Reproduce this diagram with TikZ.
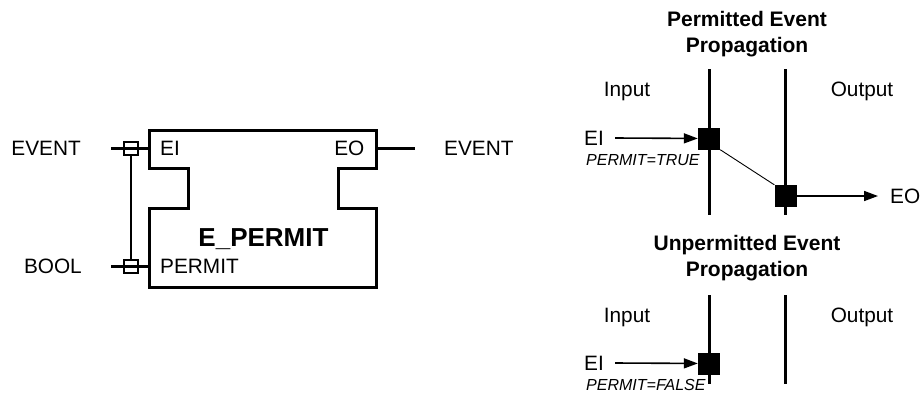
\documentclass[tikz,border=0pt]{standalone}
\usepackage{fontspec}
\setmainfont{Liberation Sans}
\usepackage{tikz}
\usetikzlibrary{arrows.meta}
\usetikzlibrary{calc}
\usetikzlibrary{positioning}
\tikzset{x=1pt, y=-1pt, node distance=12pt, every text node part/.style={align=center}}
\tikzstyle{lbl} = [inner sep=0pt, text height=14.9pt, text depth=0pt, font={\fontsize{20.8}{24}\selectfont}]
\tikzstyle{cond} = [inner sep=0pt, text height=11.5pt, text depth=0pt, font={\fontsize{16}{18}\selectfont\itshape}]
\tikzstyle{fbname} = [inner sep=0pt, text height=18.6pt, text depth=0pt, font={\fontsize{26}{30}\selectfont\bfseries}]
\tikzstyle{heading} = [inner sep=0pt, anchor=north, font={\fontsize{21}{26}\selectfont\bfseries}]
\tikzstyle{fb} = [draw, line width=3pt, line join=miter]
\tikzstyle{pin} = [draw, line width=2.3pt]
\tikzstyle{adapter} = [draw, line width=2.3pt, minimum size=13.5pt, inner sep=0pt]
\tikzstyle{dot} = [fill=black, minimum size=22pt, inner sep=0pt]
\tikzstyle{bar} = [draw, line width=3pt]
\tikzstyle{ln} = [draw, line width=1.6pt, arrows={-Triangle[length=14pt, width=10pt]}]

\begin{document}
\begin{tikzpicture}
  \useasboundingbox (0,0) rectangle (920,394);

  % E_PERMIT function block
  \draw[fb] (149,130) -- (376,130) -- (376,168) -- (338.5,168) -- (338.5,208)
    -- (376,208) -- (376,287) -- (149,287) -- (149,208) -- (188,208)
    -- (188,168) -- (149,168) -- cycle;
  \node[lbl, anchor=west] (ei) at (160,148.5) {EI};
  \node[lbl, anchor=east] (eo) at (364.5,148.5) {EO};
  \node[lbl, anchor=west] (permit) at (160,266.5) {PERMIT};
  \node[fbname] (name) at (263.5,237) {E\_PERMIT};

  % interface pins
  \coordinate (eipin) at (149,148.5);
  \coordinate (permitpin) at (149,266.5);
  \coordinate (eopin) at (376,148.5);
  \node[lbl, anchor=east] (evtin) at (81,148.5) {EVENT};
  \node[lbl, anchor=east] (bool) at (82,266.5) {BOOL};
  \node[lbl, anchor=west] (evtout) at (444,148.5) {EVENT};
  \coordinate (evtend) at (111,148.5);
  \coordinate (boolend) at (111,266.5);
  \coordinate (eoend) at (415,148.5);
  \draw[pin] (evtend) -- (eipin);
  \draw[pin] (boolend) -- (permitpin);
  \draw[pin] (eopin) -- (eoend);

  % WITH association
  \node[adapter] (withei) at (131,148.5) {};
  \node[adapter] (withpermit) at (131,266.5) {};
  \draw[pin] (withei) -- (withpermit);

  % permitted case
  \node[heading] (titleA) at (747,11.5) {Permitted Event\\Propagation};
  \node[lbl] (inA) at (627,89) {Input};
  \node[lbl] (outA) at (862,89) {Output};
  \draw[bar] (709,69) -- (709,215);
  \draw[bar] (785.5,69) -- (785.5,215);
  \node[dot] (ta) at (709,138.5) {};
  \node[dot] (tb) at (785.5,196) {};
  \node[lbl, anchor=west] (eiA) at (584,138) {EI};
  \node[cond, anchor=west] (condA) at (586,160) {PERMIT=TRUE};
  \node[lbl, anchor=west] (eoA) at (890,196) {EO};
  \draw[ln] ([xshift=11pt]eiA.east) -- (ta);
  \draw[line width=0.9pt] (ta.south east) -- (tb.north west);
  \draw[ln] (tb) -- ([xshift=-12pt]eoA.west);

  % unpermitted case
  \node[heading] (titleB) at (747,235.5) {Unpermitted Event\\Propagation};
  \node[lbl] (inB) at (627,315) {Input};
  \node[lbl] (outB) at (862,315) {Output};
  \draw[bar] (709,295) -- (709,384);
  \draw[bar] (785.5,295) -- (785.5,384);
  \node[dot] (fa) at (709,363.5) {};
  \node[lbl, anchor=west] (eiB) at (584,363) {EI};
  \node[cond, anchor=west] (condB) at (586,385) {PERMIT=FALSE};
  \draw[ln] ([xshift=11pt]eiB.east) -- (fa);
\end{tikzpicture}
\end{document}
